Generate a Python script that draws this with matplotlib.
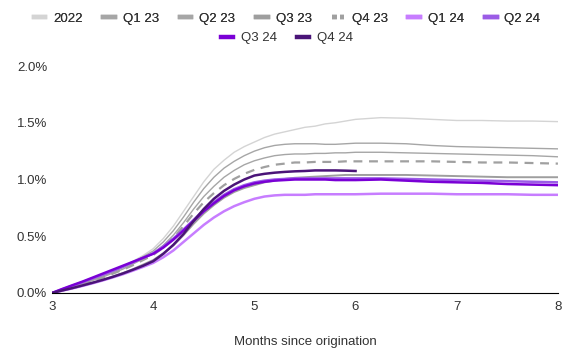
import matplotlib.pyplot as plt
from matplotlib.lines import Line2D
from matplotlib.ticker import FuncFormatter

plt.rcParams['font.family'] = ['Liberation Sans', 'DejaVu Sans']

months = [3.0, 3.1, 3.2, 3.3, 3.4, 3.5, 3.6, 3.7, 3.8, 3.9,
          4.0, 4.1, 4.2, 4.3, 4.4, 4.5, 4.6, 4.7, 4.8, 4.9,
          5.0, 5.1, 5.2, 5.3, 5.4, 5.5, 5.6, 5.7, 5.8, 5.9,
          6.0, 6.25, 6.5, 6.75, 7.0, 7.25, 7.5, 7.75, 8.0]

# cumulative loss rate, %
s2022 = [0, 0.03, 0.055, 0.085, 0.115, 0.15, 0.19, 0.23, 0.28, 0.33,
         0.39, 0.48, 0.59, 0.72, 0.85, 0.98, 1.09, 1.17, 1.24, 1.29,
         1.33, 1.37, 1.40, 1.42, 1.44, 1.46, 1.47, 1.49, 1.50, 1.515,
         1.53, 1.545, 1.54, 1.53, 1.52, 1.52, 1.515, 1.515, 1.51]
q1_23 = [0, 0.03, 0.055, 0.085, 0.115, 0.15, 0.185, 0.225, 0.27, 0.32,
         0.37, 0.45, 0.55, 0.67, 0.80, 0.92, 1.02, 1.10, 1.16, 1.21,
         1.25, 1.28, 1.30, 1.31, 1.315, 1.315, 1.315, 1.31, 1.31, 1.315,
         1.32, 1.32, 1.315, 1.30, 1.29, 1.285, 1.28, 1.275, 1.27]
q2_23 = [0, 0.028, 0.052, 0.08, 0.11, 0.14, 0.175, 0.21, 0.255, 0.30,
         0.35, 0.42, 0.51, 0.62, 0.74, 0.85, 0.94, 1.02, 1.08, 1.13,
         1.165, 1.19, 1.21, 1.22, 1.225, 1.225, 1.23, 1.23, 1.235, 1.235,
         1.24, 1.24, 1.235, 1.23, 1.225, 1.22, 1.215, 1.21, 1.20]
q3_23 = [0, 0.022, 0.042, 0.065, 0.09, 0.115, 0.145, 0.175, 0.21, 0.25,
         0.29, 0.35, 0.42, 0.51, 0.61, 0.70, 0.775, 0.84, 0.89, 0.925,
         0.95, 0.975, 0.99, 1.005, 1.015, 1.02, 1.025, 1.03, 1.035, 1.04,
         1.04, 1.04, 1.04, 1.035, 1.03, 1.025, 1.02, 1.02, 1.02]
q4_23 = [0, 0.027, 0.05, 0.078, 0.105, 0.135, 0.17, 0.205, 0.245, 0.29,
         0.335, 0.40, 0.485, 0.59, 0.70, 0.80, 0.88, 0.95, 1.005, 1.05,
         1.085, 1.11, 1.13, 1.14, 1.15, 1.15, 1.155, 1.155, 1.155, 1.16,
         1.16, 1.16, 1.16, 1.16, 1.155, 1.15, 1.15, 1.145, 1.14]
q1_24 = [0, 0.02, 0.04, 0.062, 0.085, 0.11, 0.137, 0.165, 0.197, 0.23,
         0.265, 0.315, 0.375, 0.45, 0.525, 0.60, 0.665, 0.72, 0.765, 0.80,
         0.83, 0.85, 0.86, 0.865, 0.865, 0.865, 0.87, 0.87, 0.87, 0.87,
         0.87, 0.875, 0.875, 0.875, 0.87, 0.87, 0.87, 0.865, 0.865]
q2_24 = [0, 0.032, 0.063, 0.095, 0.128, 0.16, 0.195, 0.23, 0.27, 0.31,
         0.35, 0.41, 0.48, 0.56, 0.645, 0.73, 0.80, 0.865, 0.915, 0.95,
         0.975, 0.99, 1.0, 1.005, 1.01, 1.01, 1.01, 1.01, 1.01, 1.01,
         1.01, 1.01, 1.005, 1.0, 0.995, 0.99, 0.985, 0.98, 0.975]
q3_24 = [0, 0.035, 0.068, 0.10, 0.135, 0.17, 0.205, 0.24, 0.275, 0.31,
         0.345, 0.40, 0.47, 0.55, 0.635, 0.72, 0.79, 0.855, 0.905, 0.94,
         0.965, 0.98, 0.99, 0.995, 1.0, 1.0, 1.0, 1.0, 0.995, 0.995,
         0.995, 1.0, 0.99, 0.98, 0.975, 0.97, 0.96, 0.955, 0.95]
q4_24 = [0, 0.022, 0.043, 0.066, 0.09, 0.115, 0.142, 0.172, 0.205, 0.24,
         0.28, 0.345, 0.425, 0.52, 0.635, 0.74, 0.83, 0.90, 0.955, 1.0,
         1.035, 1.05, 1.06, 1.067, 1.072, 1.075, 1.08, 1.08, 1.08, 1.078,
         1.075]

series = [
    ("2022", s2022, "#d4d4d4", "-", 1.0),
    ("Q1 23", q1_23, "#a6a6a6", "-", 1.0),
    ("Q2 23", q2_23, "#a6a6a6", "-", 1.0),
    ("Q3 23", q3_23, "#9e9e9e", "-", 1.4),
    ("Q4 23", q4_23, "#a0a0a0", (0, (4, 3)), 1.6),
    ("Q1 24", q1_24, "#c77dff", "-", 1.8),
    ("Q2 24", q2_24, "#9b5ce6", "-", 1.8),
    ("Q3 24", q3_24, "#7a00d6", "-", 1.8),
    ("Q4 24", q4_24, "#4a1478", "-", 1.8),
]

fig = plt.figure(figsize=(5.74, 3.58), dpi=100)
ax = fig.add_axes([0.0906, 0.1816, 0.8814, 0.634])

handles = []
for name, vals, color, ls, lw in series:
    ax.plot(months[:len(vals)], vals, color=color, linestyle=ls, linewidth=lw)
    handles.append(Line2D([], [], color=color, linestyle=ls if ls == "-" else (0, (1.1, 0.7)),
                          linewidth=3.2, label=name))

ax.set_xlim(3, 8)
ax.set_ylim(0, 2.0)
ax.set_yticks([0, 0.5, 1.0, 1.5, 2.0])
ax.yaxis.set_major_formatter(FuncFormatter(lambda v, p: f"{v:.1f}%"))
for s in ["top", "right", "left"]:
    ax.spines[s].set_visible(False)
ax.spines["bottom"].set_color("black")
ax.tick_params(length=0, labelsize=9.5, colors="#333333")
ax.tick_params(axis="x", pad=6)
ax.set_xlabel("Months since origination", fontsize=9.5, color="#333333", labelpad=16)

leg_kw = dict(loc="center", frameon=False, fontsize=9.5, handlelength=0.9,
              handletextpad=0.6, columnspacing=1.55, borderpad=0, labelcolor="#333333")
leg1 = fig.legend(handles=handles[:7], bbox_to_anchor=(0.5, 0.948), ncol=7, **leg_kw)
fig.legend(handles=handles[7:], bbox_to_anchor=(0.5, 0.893), ncol=2, **leg_kw)
fig.add_artist(leg1)

fig.savefig("out.png", dpi=100)
